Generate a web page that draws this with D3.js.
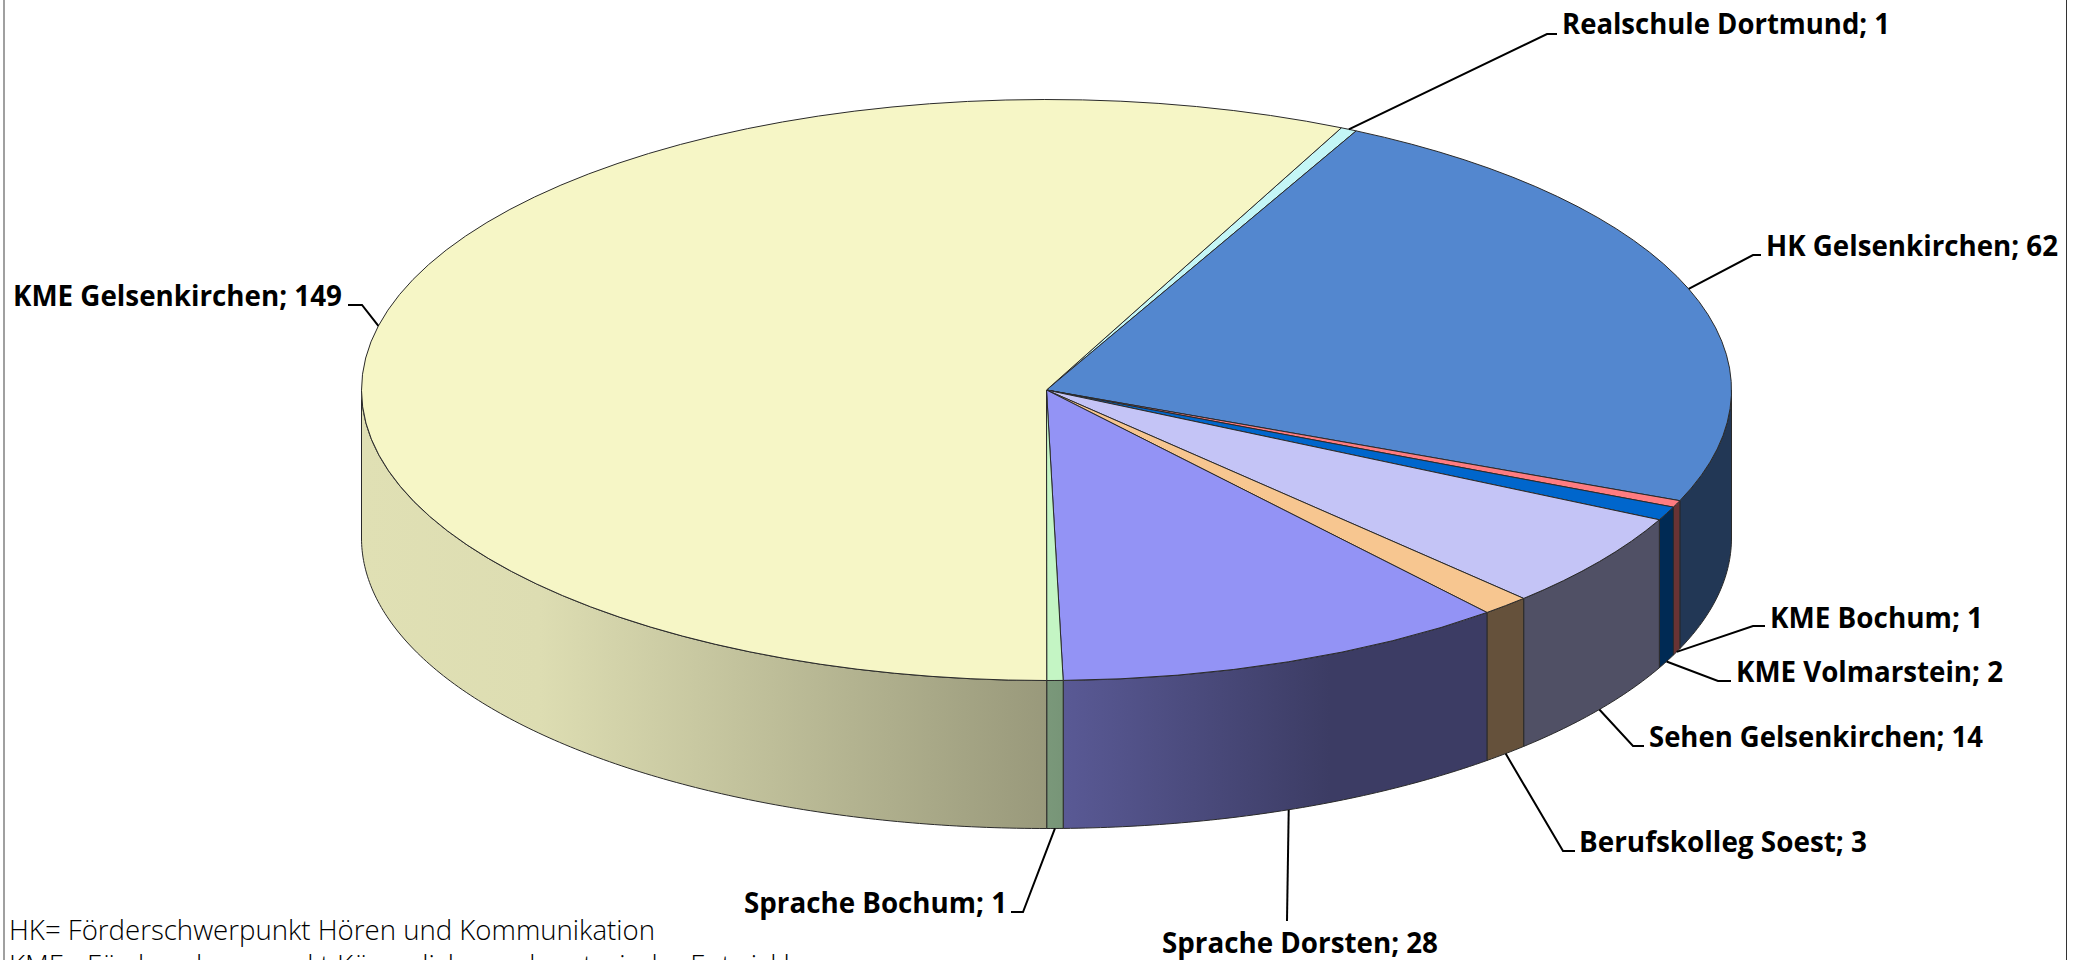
<!DOCTYPE html>
<html lang="de">
<head>
<meta charset="utf-8">
<title>Förderschwerpunkte</title>
<script src="https://cdn.jsdelivr.net/npm/d3@7"></script>
<style>
    html, body { margin: 0; padding: 0; background: #fff; overflow: hidden; }
    svg { display: block; }
    text { font-family: "Open Sans", "Noto Sans", sans-serif; fill: #000; }
    .label { font-size: 28px; font-weight: 700; }
    .note { font-size: 27.6px; font-weight: 350; }
</style>
</head>
<body>
<div id="chart"></div>
<script>
// Slices in clockwise order, starting at the top right
var categories = ["Realschule Dortmund", "HK Gelsenkirchen", "KME Bochum", "KME Volmarstein",
    "Sehen Gelsenkirchen", "Berufskolleg Soest", "Sprache Dorsten", "Sprache Bochum", "KME Gelsenkirchen"];
var values = [1, 62, 1, 2, 14, 3, 28, 1, 149];
var colors = ["#c4f6f6", "#5387cf", "#ff7c80", "#0066cc", "#c4c4f6", "#f7c690", "#9393f5", "#c4f5c4", "#f6f6c6"];
var notes = ["HK= Förderschwerpunkt Hören und Kommunikation",
    "KME= Förderschwerpunkt Körperliche und motorische Entwicklung"];

// label placement: text start, text end, baseline, elbow of the leader line, end of the leader line
var labelX = [1562, 1766, 1770, 1736, 1649, 1579, 1162, 744, 13];
var labelEnd = [1890, 2058, 1983, 2003, 1983, 1867, 1438, 1007, 342];
var labelY = [34, 256, 628, 682, 747, 852, 953, 913, 306];
var elbowX = [1547, 1753, 1753, 1718, 1633, 1563, null, 1023, 362];
var elbowY = [34, 255, 626, 681, 746, 851, null, 912, 305];
var leaderEndX = [1557, 1761, 1765, 1731, 1644, 1575, 1287, 1011, 348];
var leaderEndY = [34, 255, 626, 681, 746, 851, 921, 912, 305];

var svgWidth = 2082;
var svgHeight = 960;
var cx = 1046.5, cy = 390, rx = 685, ry = 290.5, depth = 148;
var startAngle = 25.5 * Math.PI / 180;

var svg = d3.select("#chart").append("svg")
    .attr("width", svgWidth)
    .attr("height", svgHeight);

var slices = d3.pie().sort(null)
    .startAngle(startAngle)
    .endAngle(startAngle + 2 * Math.PI)(values);

function px(a) { return cx + rx * Math.sin(a); }
function py(a) { return cy - ry * Math.cos(a); }

// wall shading depends on the horizontal position only
var shadeStops = [cx - rx, 540, cx, 1330, cx + rx];
var shade = d3.scaleLinear()
    .domain(shadeStops)
    .range([0.91, 0.9, 0.62, 0.41, 0.41]);
var gradX = d3.scaleLinear().domain([cx - rx, cx + rx]).range([0, 1]);

var defs = svg.append("defs");
slices.forEach(function (d, i) {
    var g = defs.append("linearGradient")
        .attr("id", "wall" + i)
        .attr("gradientUnits", "userSpaceOnUse")
        .attr("x1", cx - rx).attr("x2", cx + rx)
        .attr("y1", 0).attr("y2", 0);
    shadeStops.forEach(function (x) {
        var c = d3.rgb(colors[i]);
        var k = shade(x);
        g.append("stop")
            .attr("offset", gradX(x))
            .attr("stop-color", d3.rgb(c.r * k, c.g * k, c.b * k));
    });
});

// walls, only the part of the rim that faces the viewer
var line = d3.line();
var wallMin = Math.PI / 2, wallMax = 3 * Math.PI / 2;

function wallPath(d) {
    var a0 = Math.max(d.startAngle, wallMin);
    var a1 = Math.min(d.endAngle, wallMax);
    if (a0 >= a1) return null;
    var n = Math.ceil((a1 - a0) * 90) + 1;
    var angles = d3.range(n + 1).map(function (j) { return a0 + (a1 - a0) * j / n; });
    var top = angles.map(function (a) { return [px(a), py(a)]; });
    var bottom = angles.slice().reverse().map(function (a) { return [px(a), py(a) + depth]; });
    return line(top.concat(bottom)) + "Z";
}

svg.append("g").selectAll("path")
    .data(slices)
    .enter().append("path")
    .attr("d", wallPath)
    .attr("fill", function (d, i) { return "url(#wall" + i + ")"; })
    .attr("stroke", "#2a2a2a")
    .attr("stroke-width", 1)
    .attr("stroke-linejoin", "round");

// top faces
var arc = d3.arc().innerRadius(0).outerRadius(rx);

svg.append("g")
    .attr("transform", "translate(" + cx + "," + cy + ") scale(1," + (ry / rx) + ")")
    .selectAll("path")
    .data(slices)
    .enter().append("path")
    .attr("d", arc)
    .attr("fill", function (d, i) { return colors[i]; })
    .attr("stroke", "#2a2a2a")
    .attr("stroke-width", 1)
    .attr("stroke-linejoin", "round")
    .style("vector-effect", "non-scaling-stroke");

// leader lines start at the middle of each slice on the visible rim
svg.append("g").selectAll("path")
    .data(slices)
    .enter().append("path")
    .attr("fill", "none")
    .attr("stroke", "#000")
    .attr("stroke-width", 2)
    .attr("d", function (d, i) {
        var mid = (d.startAngle + d.endAngle) / 2;
        var front = mid > wallMin && mid < wallMax;
        var pts = [[px(mid), py(mid) + (front ? depth : 0)]];
        if (elbowX[i] !== null) pts.push([elbowX[i], elbowY[i]]);
        pts.push([leaderEndX[i], leaderEndY[i]]);
        return line(pts);
    });

svg.append("g").selectAll("text")
    .data(slices)
    .enter().append("text")
    .attr("class", "label")
    .attr("x", function (d, i) { return labelX[i]; })
    .attr("y", function (d, i) { return labelY[i]; })
    .attr("textLength", function (d, i) { return labelEnd[i] - labelX[i]; })
    .attr("lengthAdjust", "spacingAndGlyphs")
    .text(function (d, i) { return categories[i] + "; " + values[i]; });

svg.append("g").selectAll("text")
    .data(notes)
    .enter().append("text")
    .attr("class", "note")
    .attr("x", 9)
    .attr("y", function (d, i) { return 940 + i * 35; })
    .text(function (d) { return d; });

// chart frame
svg.append("line").attr("x1", 4).attr("x2", 4).attr("y1", 0).attr("y2", svgHeight)
    .attr("stroke", "#808080").attr("stroke-width", 1.5);
svg.append("line").attr("x1", 2066.5).attr("x2", 2066.5).attr("y1", 0).attr("y2", svgHeight)
    .attr("stroke", "#333").attr("stroke-width", 1);
</script>
</body>
</html>
